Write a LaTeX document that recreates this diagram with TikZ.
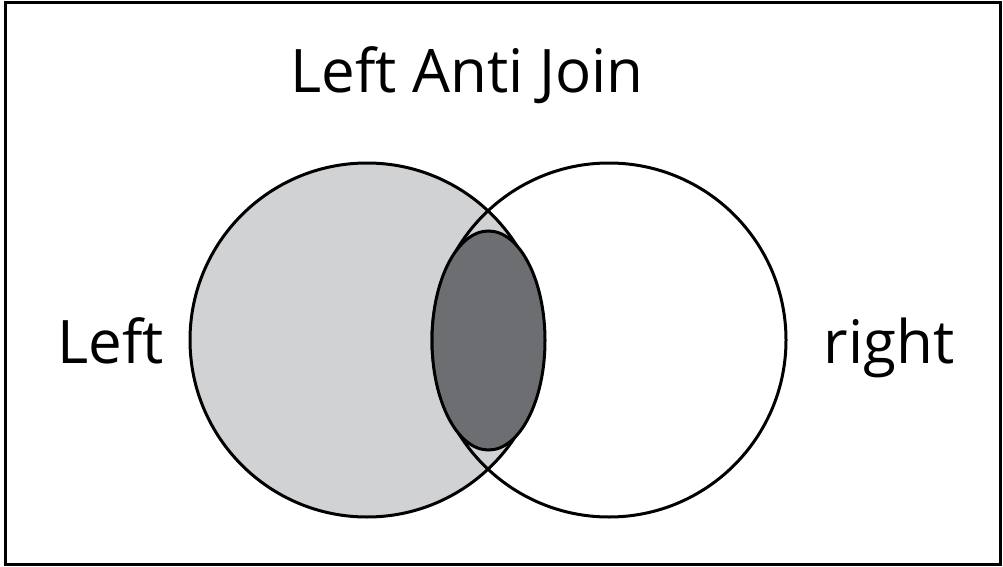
\documentclass[tikz,border=0pt]{standalone}
\usepackage{fontspec}
\setmainfont{Open Sans}
\usetikzlibrary{shapes.geometric}
\definecolor{lightfill}{HTML}{D1D2D4}
\definecolor{darkfill}{HTML}{6D6E71}
\begin{document}
\begin{tikzpicture}[x=1pt,y=-1pt,
  setline/.style={draw=black,line width=3pt},
  lbl/.style={font=\fontsize{60}{60}\selectfont,inner sep=0pt,anchor=base}]
\useasboundingbox (0,0) rectangle (1003,567);
\draw[line width=3pt] (5.5,2.5) rectangle (1000.5,564.5);
\node[setline,fill=lightfill,circle,minimum size=354pt,inner sep=0pt] (L) at (367,340) {};
\node[setline,circle,minimum size=354pt,inner sep=0pt] (R) at (609,340) {};
\node[setline,fill=darkfill,ellipse,minimum width=113pt,minimum height=219pt,inner sep=0pt] (I) at (488.5,340.5) {};
\node[lbl] (title) at (467,93) {Left Anti Join};
\node[lbl] (lt) at (111,363) {Left};
\node[lbl] (rt) at (889,363) {right};
\end{tikzpicture}
\end{document}
